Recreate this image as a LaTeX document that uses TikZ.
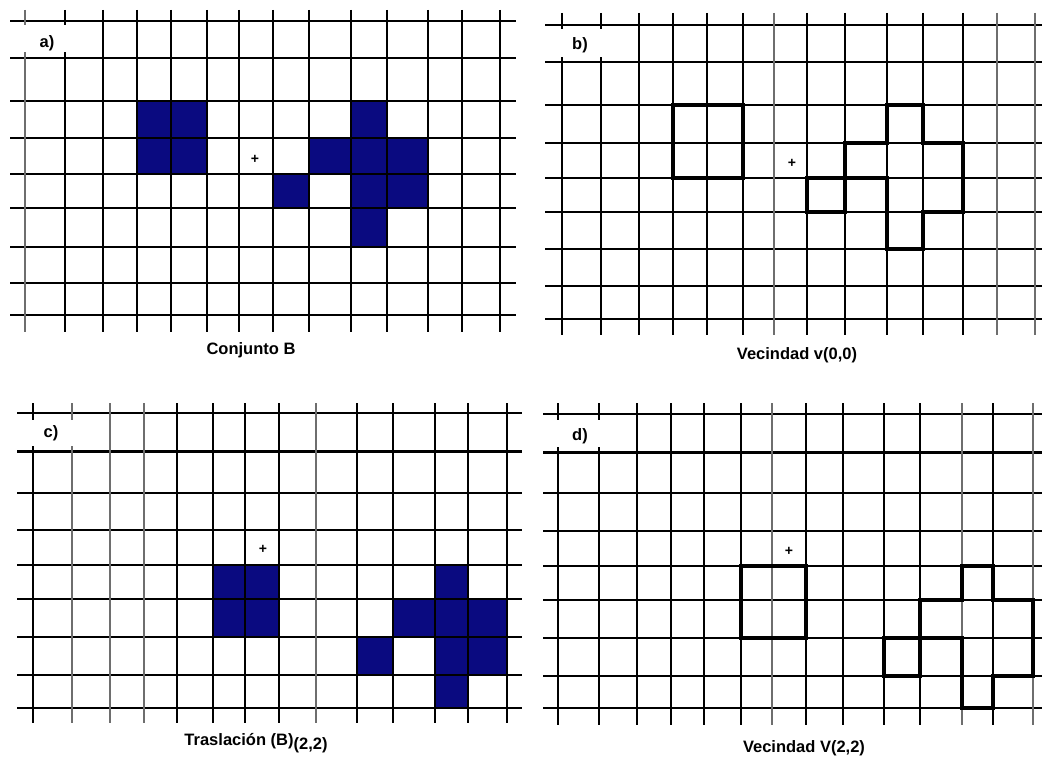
\documentclass[tikz,border=0pt]{standalone}
\usepackage{fontspec}
\setmainfont{Liberation Sans}
\definecolor{navy700}{HTML}{0A0A80}
\definecolor{grey500}{HTML}{6E6E6E}
\tikzset{
  gline/.style ={draw=black, line width=2pt},
  glineg/.style={draw=grey500, line width=2.2pt},
  gthick/.style={draw=black, line width=3pt},
  cellb/.style ={fill=navy700},
  outl/.style  ={draw=black, line width=3.4pt, line join=miter},
  blank/.style ={fill=white},
  tag/.style   ={font=\bfseries\fontsize{16.5}{18}\selectfont, inner sep=0pt},
  capt/.style  ={font=\bfseries\fontsize{16.5}{18}\selectfont, inner sep=0pt},
  orig/.style  ={font=\bfseries\fontsize{14}{14}\selectfont, inner sep=0pt}
}

\begin{document}
\begin{tikzpicture}[x=1pt, y=-1pt]
\useasboundingbox[fill=white] (0,0) rectangle (1042,762);

% a) conjunto B
\fill[cellb] (137,101) rectangle (207,174);
\fill[cellb] (273,174) rectangle (309,208);
\fill[cellb] (309,138) rectangle (351,174);
\fill[cellb] (351,101) rectangle (387,247);
\fill[cellb] (387,138) rectangle (428,208);
\foreach \y in {21,58,101,138,174,208,247,283,315}
  \draw[gline] (10,\y) -- (516,\y);
\foreach \x in {65,103,137,171,207,239,273,309,351,387,428,462,500}
  \draw[gline] (\x,10) -- (\x,332);
\draw[glineg] (25,10) -- (25,332);
\fill[blank] (20,25) rectangle (70,52);
\node[tag]  (la)   at (47,43)   {a)};
\node[orig] (oa)   at (255,159) {+};
\node[capt] (capa) at (251,350) {Conjunto B};

% b) vecindad v(0,0)
\foreach \y in {25,62,105,143,178,212,249,286,319}
  \draw[gline] (545,\y) -- (1042,\y);
\foreach \x in {562,601,639,673,707,743,807,845,887,923,963}
  \draw[gline] (\x,13) -- (\x,335);
\foreach \x in {774,997,1035}
  \draw[glineg] (\x,13) -- (\x,335);
\draw[outl] (673,105) rectangle (743,178);
\draw[outl] (807,178) rectangle (845,212);
\draw[outl] (887,105) -- (923,105) -- (923,143) -- (963,143) -- (963,212)
  -- (923,212) -- (923,249) -- (887,249) -- (887,178) -- (845,178)
  -- (845,143) -- (887,143) -- cycle;
\fill[blank] (555,29) rectangle (610,57);
\node[tag]  (lb)   at (580,45)  {b)};
\node[orig] (ob)   at (792,163) {+};
\node[capt] (capb) at (797,355) {Vecindad v(0,0)};

% c) traslacion
\fill[cellb] (213,565) rectangle (279,637);
\fill[cellb] (357,637) rectangle (393,675);
\fill[cellb] (393,599) rectangle (435,637);
\fill[cellb] (435,565) rectangle (468,708);
\fill[cellb] (468,599) rectangle (507,675);
\foreach \y in {413,493,530,565,599,637,675,708}
  \draw[gline] (17,\y) -- (522,\y);
\draw[gthick] (17,451) -- (522,451);
\foreach \x in {33,177,213,245,279,357,393,435,468,507}
  \draw[gline] (\x,403) -- (\x,723);
\foreach \x in {72,110,144,316}
  \draw[glineg] (\x,403) -- (\x,723);
\fill[blank] (25,420) rectangle (80,446);
\node[tag]  (lc)   at (51,433)  {c)};
\node[orig] (oc)   at (263,549) {+};
\node[capt] (capc) at (256,743)
  {Traslación (B)\raisebox{-0.45ex}{(2,2)}};

% d) vecindad V(2,2)
\foreach \y in {414,493,531,566,600,638,676,708}
  \draw[gline] (543,\y) -- (1042,\y);
\draw[gthick] (543,452) -- (1042,452);
\foreach \x in {558,599,637,671,704,741,806,843,884,920,993}
  \draw[gline] (\x,403) -- (\x,725);
\foreach \x in {772,962,1033}
  \draw[glineg] (\x,403) -- (\x,725);
\draw[outl] (741,566) rectangle (806,638);
\draw[outl] (884,638) rectangle (920,676);
\draw[outl] (962,566) -- (993,566) -- (993,600) -- (1033,600) -- (1033,676)
  -- (993,676) -- (993,708) -- (962,708) -- (962,638) -- (920,638)
  -- (920,600) -- (962,600) -- cycle;
\fill[blank] (550,420) rectangle (608,447);
\node[tag]  (ld)   at (580,436) {d)};
\node[orig] (od)   at (789,551) {+};
\node[capt] (capd) at (804,748) {Vecindad V(2,2)};
\end{tikzpicture}
\end{document}
